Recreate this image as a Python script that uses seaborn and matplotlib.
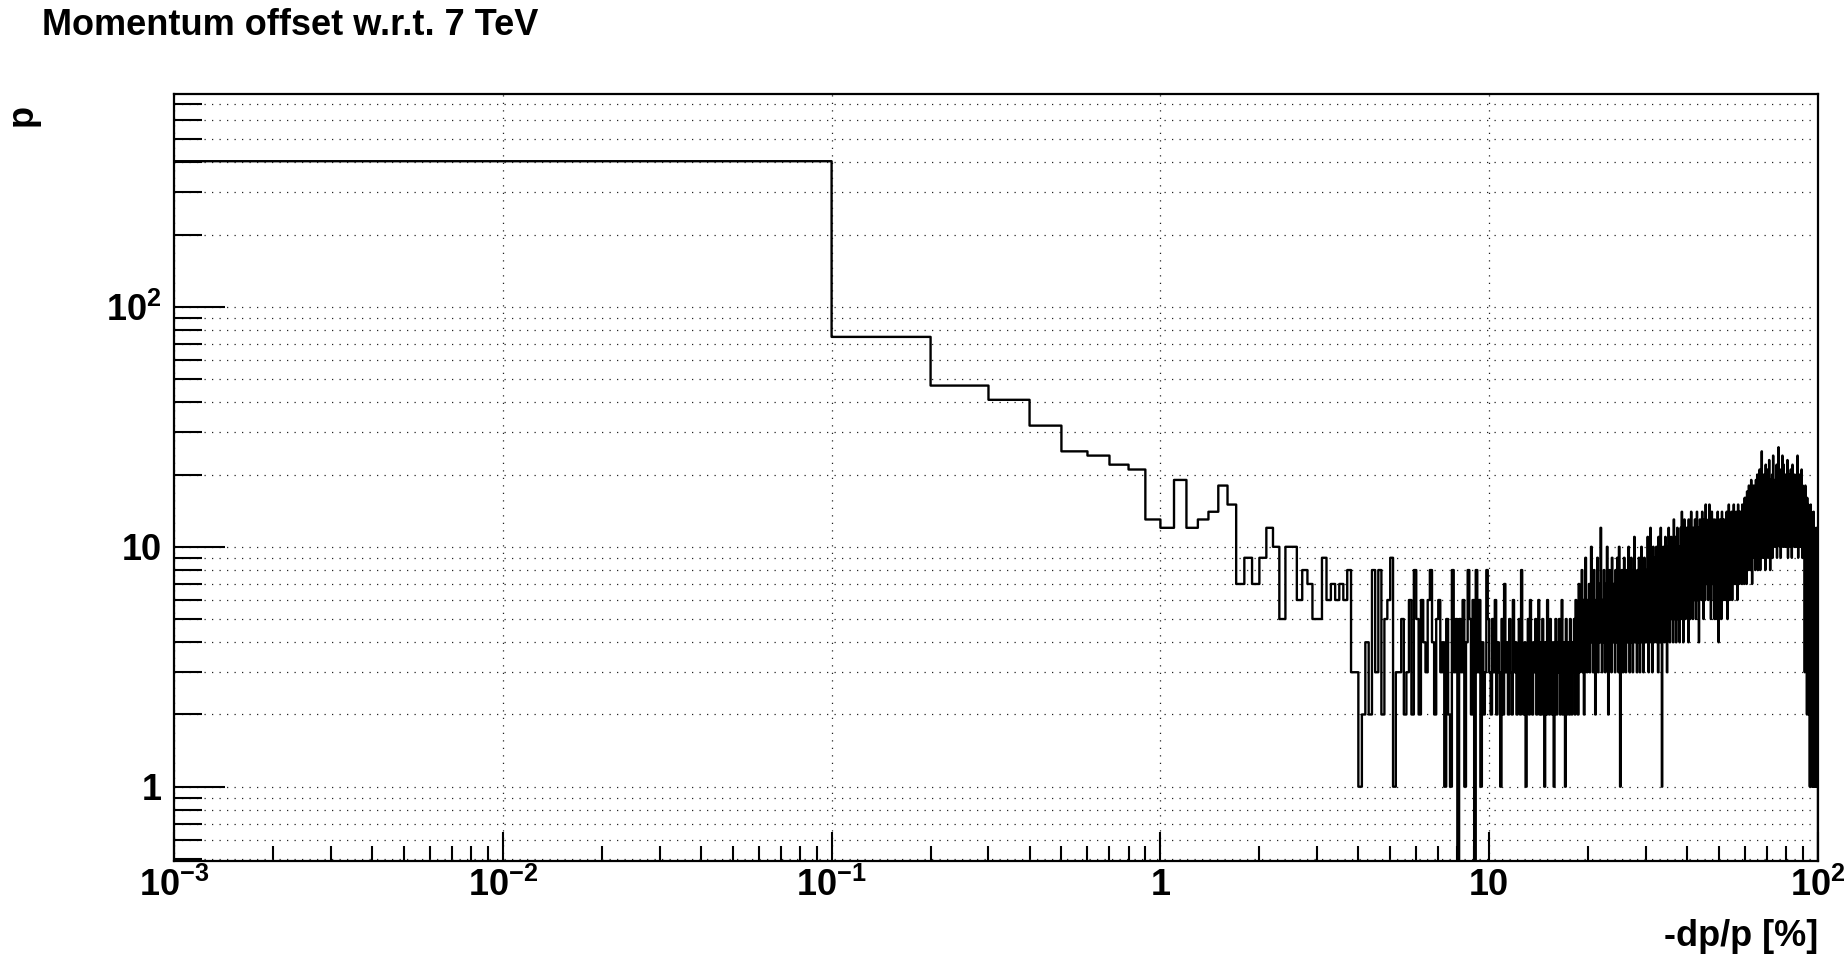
import numpy as np
import pandas as pd
import matplotlib
matplotlib.use("Agg")
import matplotlib.pyplot as plt
import seaborn as sns
from matplotlib.ticker import FixedLocator, FuncFormatter, NullFormatter

# ---------------- data ----------------
title = "Momentum offset w.r.t. 7 TeV"
x_label = "-dp/p [%]"
y_label = "p"
bin_width = 0.1          # histogram bin width in %
x_major = [1e-3, 1e-2, 1e-1, 1, 10, 100]
y_major = [1, 10, 100]

# counts per 0.1 % bin, 0 % ... 100 %
counts_0_to_1 = [405, 75, 47, 41, 32, 25, 24, 22, 21, 13]
counts_1_to_10 = [
    12, 19, 12, 13, 14, 18, 15, 7, 9, 7,
    9, 12, 10, 5, 10, 10, 6, 8, 7, 5,
    5, 9, 6, 7, 6, 7, 6, 8, 3, 3,
    1, 2, 4, 2, 8, 3, 8, 2, 5, 6,
    9, 1, 3, 3, 5, 2, 3, 6, 2, 8,
    5, 2, 6, 4, 3, 6, 8, 4, 2, 5,
    6, 3, 4, 1, 5, 2, 1, 8, 3, 5,
    0, 5, 3, 6, 1, 4, 8, 5, 2, 6,
    0, 8, 3, 6, 1, 4, 2, 3, 8, 5,
]
counts_10_to_20 = [
    3, 2, 5, 3, 6, 2, 4, 3, 1, 5, 2, 7, 3, 4, 2, 5, 3, 2, 6, 3,
    4, 2, 3, 5, 2, 8, 3, 2, 4, 1, 3, 5, 2, 6, 3, 2, 4, 3, 5, 2,
    3, 6, 2, 4, 2, 5, 3, 1, 4, 2, 6, 3, 2, 5, 3, 2, 4, 1, 3, 5,
    2, 4, 3, 5, 2, 3, 6, 2, 4, 3, 1, 5, 2, 3, 4, 2, 5, 3, 2, 4,
    3, 5, 2, 6, 3, 4, 2, 7, 3, 5, 4, 8, 3, 6, 2, 5, 9, 4, 3, 6,
]
counts_20_to_30 = [
    4, 7, 3, 5, 10, 4, 6, 3, 8, 5, 2, 6, 4, 9, 3, 5, 7, 4, 12, 5,
    3, 6, 4, 8, 5, 3, 7, 4, 10, 5, 2, 6, 8, 4, 5, 3, 9, 6, 4, 7,
    5, 3, 8, 6, 4, 9, 5, 3, 10, 6, 1, 7, 4, 8, 5, 3, 6, 9, 4, 7,
    3, 5, 8, 4, 6, 10, 5, 3, 7, 4, 9, 5, 6, 3, 8, 4, 11, 5, 7, 4,
    6, 3, 8, 5, 4, 9, 6, 3, 7, 5, 10, 4, 6, 8, 3, 5, 9, 4, 7, 6,
]
counts_30_to_40 = [
    4, 8, 5, 11, 6, 3, 9, 7, 5, 12, 4, 6, 8, 3, 7, 10, 5, 6, 4, 9,
    7, 5, 10, 4, 8, 6, 3, 11, 7, 5, 9, 4, 12, 6, 8, 1, 7, 5, 10, 6,
    8, 4, 7, 11, 5, 9, 6, 3, 10, 7, 5, 12, 6, 8, 4, 9, 7, 11, 5, 8,
    6, 10, 4, 8, 13, 7, 5, 9, 6, 11, 4, 8, 7, 12, 5, 9, 6, 10, 8, 4,
    9, 6, 12, 5, 8, 14, 7, 10, 6, 4, 11, 8, 13, 6, 9, 5, 10, 7, 12, 8,
]
counts_40_to_50 = [
    6, 11, 8, 4, 13, 9, 7, 12, 5, 10, 8, 14, 6, 9, 11, 7, 5, 12, 8, 10,
    9, 6, 13, 8, 11, 5, 10, 7, 14, 9, 6, 12, 8, 10, 4, 11, 9, 13, 7, 10,
    8, 12, 6, 10, 14, 7, 11, 9, 5, 13, 8, 10, 12, 6, 9, 15, 8, 11, 7, 10,
    12, 8, 10, 6, 13, 9, 11, 15, 7, 10, 8, 12, 5, 11, 9, 14, 8, 10, 13, 7,
    8, 11, 6, 9, 5, 13, 7, 10, 8, 5, 12, 9, 6, 11, 8, 14, 7, 10, 4, 9,
]
counts_50_to_60 = [
    11, 7, 9, 13, 6, 10, 8, 12, 5, 9, 14, 7, 11, 8, 10, 6, 13, 9, 7, 12,
    8, 10, 6, 13, 9, 11, 7, 14, 8, 10, 5, 12, 9, 11, 7, 15, 10, 8, 12, 6,
    10, 13, 8, 11, 7, 14, 9, 12, 6, 10, 13, 8, 11, 9, 15, 7, 12, 10, 8, 13,
    9, 12, 7, 14, 10, 8, 13, 11, 6, 12, 9, 15, 8, 11, 13, 7, 10, 14, 9, 12,
    11, 8, 14, 10, 13, 7, 12, 9, 15, 11, 8, 13, 10, 14, 9, 12, 7, 11, 16, 10,
]
counts_60_to_70 = [
    11, 8, 13, 16, 9, 12, 7, 14, 17, 10, 12, 9, 15, 11, 8, 13, 18, 10, 12, 14,
    9, 13, 16, 11, 8, 14, 19, 12, 10, 15, 7, 13, 17, 11, 9, 14, 12, 18, 10, 13,
    15, 10, 12, 17, 8, 14, 11, 19, 13, 9, 16, 12, 10, 20, 14, 11, 8, 15, 13, 17,
    12, 16, 9, 14, 21, 11, 13, 8, 17, 12, 15, 10, 18, 13, 25, 11, 14, 9, 16, 12,
    14, 10, 17, 12, 20, 9, 15, 13, 11, 18, 14, 8, 16, 22, 12, 15, 10, 17, 13, 19,
]
counts_70_to_80 = [
    11, 15, 13, 21, 9, 16, 12, 18, 14, 10, 23, 13, 17, 11, 15, 8, 19, 14, 12, 16,
    13, 18, 10, 15, 12, 20, 14, 9, 17, 13, 24, 11, 16, 12, 19, 14, 10, 17, 13, 15,
    12, 16, 19, 11, 14, 10, 18, 13, 22, 15, 9, 17, 12, 20, 14, 11, 16, 13, 26, 12,
    15, 11, 17, 13, 20, 10, 14, 18, 12, 16, 9, 21, 13, 15, 11, 19, 14, 12, 17, 24,
    13, 16, 10, 18, 14, 12, 22, 15, 11, 17, 13, 19, 10, 16, 14, 12, 20, 15, 11, 18,
]
counts_80_to_90 = [
    14, 10, 17, 12, 19, 15, 11, 23, 13, 16, 9, 18, 14, 12, 20, 13, 15, 11, 17, 14,
    12, 18, 14, 10, 16, 13, 21, 11, 15, 19, 12, 14, 9, 17, 13, 16, 22, 12, 15, 11,
    16, 13, 19, 11, 14, 17, 10, 15, 12, 20, 14, 11, 18, 13, 16, 10, 15, 19, 12, 14,
    11, 15, 13, 17, 10, 14, 24, 12, 16, 13, 9, 18, 14, 11, 15, 17, 12, 20, 13, 10,
    14, 12, 16, 11, 18, 13, 10, 15, 12, 17, 14, 21, 11, 13, 16, 9, 15, 12, 18, 13,
]
counts_90_to_100 = [
    12, 15, 10, 14, 11, 17, 13, 9, 16, 12, 14, 3, 15, 13, 11, 18, 6, 14, 9, 13,
    11, 4, 14, 9, 15, 2, 12, 16, 6, 11, 14, 3, 13, 15, 7, 12, 2, 14, 8, 13,
    12, 3, 13, 9, 1, 14, 5, 12, 10, 2, 15, 7, 11, 4, 14, 1, 13, 6, 12, 3,
    10, 2, 13, 5, 11, 1, 12, 4, 9, 2, 14, 6, 10, 1, 11, 3, 12, 5, 8, 2,
    9, 1, 11, 4, 10, 2, 8, 3, 12, 1, 7, 5, 9, 2, 6, 1, 4, 3, 2, 1,
]

counts = np.array(counts_0_to_1 + counts_1_to_10 + counts_10_to_20 + counts_20_to_30
                  + counts_30_to_40 + counts_40_to_50 + counts_50_to_60
                  + counts_60_to_70 + counts_70_to_80 + counts_80_to_90
                  + counts_90_to_100, dtype=float)
edges = np.round(np.arange(len(counts) + 1) * bin_width, 1)
# step outline: each count holds from its left edge; histogram closes to 0 at the end
df = pd.DataFrame({"x": edges, "y": np.append(counts, 0.0)})

# ---------------- style ----------------
sns.set_theme(style="white")
plt.rcParams["font.family"] = ["Liberation Sans", "DejaVu Sans"]
plt.rcParams["font.weight"] = "bold"
plt.rcParams["mathtext.fontset"] = "custom"
plt.rcParams["mathtext.rm"] = "Liberation Sans:bold"
plt.rcParams["mathtext.bf"] = "Liberation Sans:bold"
plt.rcParams["mathtext.it"] = "Liberation Sans:bold"
plt.rcParams["axes.unicode_minus"] = False

W, H = 1849, 956
fig = plt.figure(figsize=(W / 100, H / 100), dpi=100)
fig.patch.set_facecolor("white")
L, R, T, B = 174, 1818, 94, 861
ax = fig.add_axes([L / W, 1 - B / H, (R - L) / W, (B - T) / H])
ax.set_facecolor("white")

sns.lineplot(data=df, x="x", y="y", drawstyle="steps-post", estimator=None,
             sort=False, color="black", linewidth=1.7, ax=ax)

ax.set_xscale("log")
ax.set_yscale("log")
ax.set_xlim(1e-3, 1e2)
ax.set_ylim(0.49, 772)

def pow_fmt(v, pos):
    e = int(round(np.log10(v)))
    if e == 0:
        return "1"
    if e == 1:
        return "10"
    return r"$\mathbf{10^{%d}}$" % e

ax.xaxis.set_major_locator(FixedLocator(x_major))
ax.xaxis.set_minor_locator(FixedLocator(
    [m * 10.0 ** d for d in range(-3, 2) for m in range(2, 10)]))
ax.yaxis.set_major_locator(FixedLocator(y_major))
ax.yaxis.set_minor_locator(FixedLocator(
    [m * 10.0 ** d for d in range(-1, 3) for m in range(2, 10)]))
ax.xaxis.set_major_formatter(FuncFormatter(pow_fmt))
ax.yaxis.set_major_formatter(FuncFormatter(pow_fmt))
ax.xaxis.set_minor_formatter(NullFormatter())
ax.yaxis.set_minor_formatter(NullFormatter())

grid_kw = dict(color="#222222", linewidth=0.9, linestyle=(0, (1, 5)))
ax.grid(False)
ax.xaxis.grid(True, which="major", **grid_kw)
ax.yaxis.grid(True, which="both", **grid_kw)
ax.set_axisbelow(True)

ax.tick_params(axis="both", which="both", direction="in", bottom=True, left=True,
               top=False, right=False, colors="black", width=1.5, labelsize=26)
ax.tick_params(axis="x", which="major", length=21, pad=5)
ax.tick_params(axis="x", which="minor", length=10.5)
ax.tick_params(axis="y", which="major", length=37, pad=9)
ax.tick_params(axis="y", which="minor", length=20)

for s in ax.spines.values():
    s.set_visible(True)
    s.set_color("black")
    s.set_linewidth(1.6)

ax.set_xlabel("")
ax.set_ylabel("")
fig.text(42 / W, 1 - 8 / H, title, ha="left", va="top", fontsize=26,
         fontweight="bold", color="black")
fig.text(R / W, 1 - 936 / H, x_label, ha="right", va="center", fontsize=26,
         fontweight="bold", color="black")
fig.text(22 / W, 1 - 115 / H, y_label, ha="center", va="center", fontsize=26,
         fontweight="bold", rotation=90, color="black")

fig.savefig("out.png", dpi=100, facecolor="white")
